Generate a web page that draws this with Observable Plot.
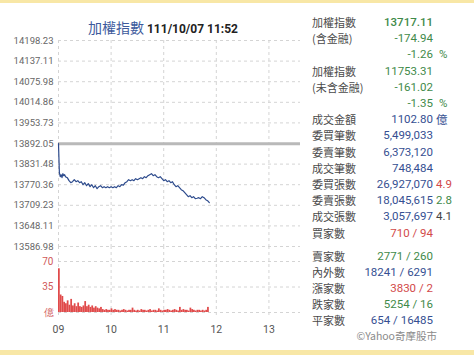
<!DOCTYPE html>
<html><head><meta charset="utf-8">
<script src="https://cdn.jsdelivr.net/npm/d3@7"></script>
<script src="https://cdn.jsdelivr.net/npm/@observablehq/plot@0.6"></script>
<style>
body{margin:0;background:#fff;}
#wrap{position:relative;width:474px;height:355px;overflow:hidden;background:#fff;font-family:Roboto,"Noto Sans CJK TC",sans-serif;}
.band{position:absolute;left:0;width:474px;background:#f8e7a6;}
.abs{position:absolute;white-space:nowrap;line-height:16px;}
.lab{font-family:"Noto Sans CJK TC",sans-serif;font-size:11px;color:#4a4a4a;}
.val{font-size:11.5px;text-align:right;}
</style></head><body><div id="wrap"></div>
<script>
// ---------- data ----------
const titleName = "加權指數";
const titleTime = "111/10/07 11:52";
const prevClose = 13892.05;
const priceTicks = [13586.98, 13648.11, 13709.23, 13770.36, 13831.48, 13892.05, 13953.73, 14014.86, 14075.98, 14137.11, 14198.23];
const priceTickLabels = ["13586.98", "13648.11", "13709.23", "13770.36", "13831.48", "13892.05", "13953.73", "14014.86", "14075.98", "14137.11", "14198.23"];
const hourMinutes = [0, 60, 120, 180, 240];
const hourLabels = ["09", "10", "11", "12", "13"];
const volTicks = [0, 35, 70];
const volTickLabels = ["億", "35", "70"];
// minutes after 09:00
const priceMinutes = [0,1,2,3,4,5,6,7,8,10,12,14,16,18,20,22,24,26,28,30,32,34,36,38,40,42,44,46,48,50,52,54,56,58,60,62,64,66,68,70,72,74,76,78,80,82,84,86,88,90,92,94,96,98,100,102,104,106,108,110,112,114,116,118,120,122,124,126,128,130,132,134,136,138,140,142,144,146,148,150,152,154,156,158,160,162,164,166,168,170,172];
const priceValues = [13892.05,13806.0,13794.1,13800.1,13791.2,13803.0,13797.1,13800.1,13794.1,13791.2,13782.3,13776.3,13779.3,13785.2,13779.3,13782.3,13776.3,13779.3,13770.4,13776.3,13767.4,13773.4,13764.5,13770.4,13761.5,13767.4,13758.5,13764.5,13767.4,13761.5,13764.5,13761.5,13764.5,13761.5,13764.5,13761.5,13764.5,13761.5,13767.4,13764.5,13770.4,13768.9,13776.3,13779.3,13785.2,13782.3,13785.2,13782.3,13788.2,13785.2,13788.2,13791.2,13788.2,13794.1,13791.2,13797.1,13800.1,13803.0,13797.1,13800.1,13794.1,13791.2,13794.1,13788.2,13782.3,13785.2,13779.3,13782.3,13776.3,13779.3,13770.4,13764.5,13767.4,13761.5,13755.6,13752.6,13746.7,13740.7,13734.8,13737.8,13731.8,13734.8,13728.9,13730.2,13731.8,13728.9,13734.8,13731.8,13725.9,13722.9,13717.11];
// volume (億) per 2-minute bin starting at 09:00
const volValues = [60,24,22,14,12,16,10,18,9,12,8,13,8,7,9,15,8,10,7,9,6,8,6,5,7,4,3,4,3,3,5,3,4,3,3,2,3,4,3,2,3,3,6,3,2,3,2,4,3,3,2,3,4,2,3,3,2,5,3,2,3,3,4,3,2,3,4,3,2,7,3,4,3,3,2,6,4,3,2,3,3,2,3,2,3,7];
// right-hand statistics
const statLabels = ["加權指數","(含金融)","","加權指數","(未含金融)","","成交金額","委買筆數","委賣筆數","成交筆數","委買張數","委賣張數","成交張數","買家數","賣家數","內外數","漲家數","跌家數","平家數",""];
const statValues = ["13717.11","-174.94","-1.26","11753.31","-161.02","-1.35","1102.80","5,499,033","6,373,120","748,484","26,927,070","18,045,615","3,057,697","710 / 94","2771 / 260","18241 / 6291","3830 / 2","5254 / 16","654 / 16485","©Yahoo奇摩股市"];
const statColors = ["green","green","green","green","green","green","blue","blue","blue","blue","blue","blue","blue","red","green","blue","red","green","blue","gray"];
const statSuffix = ["","","%","","","%","億","","","","4.9","2.8","4.1","","","","","","",""];
const suffixColors = ["","","green","","","green","blue","","","","red","green","dark","","","","","","",""];

// ---------- styles ----------
const palette = {green:"#3f8a4a", blue:"#354f92", red:"#d24a4a", gray:"#8a8a8a", dark:"#444"};
const wrap = document.getElementById("wrap");
function add(el, css, html){ const d=document.createElement(el); d.className="abs"; Object.assign(d.style, css); d.innerHTML=html; wrap.appendChild(d); return d; }

add("div",{left:"0",top:"0",height:"3px"},"").className="band";
const b2 = add("div",{},""); b2.className="band"; b2.style.top="350px"; b2.style.height="5px";

// title
add("div",{left:"88px",top:"19px",fontSize:"12px",fontWeight:"bold",color:"#222"},
  `<span style="font-family:'Noto Sans CJK TC';font-weight:normal;font-size:14px;color:#3d5a9c">${titleName}</span> ${titleTime}`);

// price chart
const priceData = priceMinutes.map((m,i)=>({m, p: priceValues[i]}));
const gridStyle = {stroke:"#d4d4d4", strokeDasharray:"3,3", strokeWidth:1};
const chart1 = Plot.plot({
  width: 300, height: 226, marginLeft: 58, marginRight: 0, marginTop: 10, marginBottom: 10,
  style: {fontFamily: "Roboto, sans-serif", fontSize: "9.5px", background: "transparent", overflow: "visible"},
  x: {domain: [0, 276], axis: null},
  y: {domain: [priceTicks[0], priceTicks[priceTicks.length-1]], axis: null},
  marks: [
    Plot.ruleY(priceTicks, gridStyle),
    Plot.ruleX(hourMinutes, gridStyle),
    Plot.ruleY([prevClose], {stroke:"#b9b9b9", strokeWidth:3}),
    Plot.line(priceData, {x:"m", y:"p", stroke:"#2c4a8c", strokeWidth:1.2}),
    Plot.axisY(priceTicks, {tickSize:0, tickPadding:5, fill:"#666", label:null, tickFormat: d => priceTickLabels[priceTicks.indexOf(d)]})
  ]
});
chart1.style.position="absolute"; chart1.style.left="0px"; chart1.style.top="30px";
wrap.appendChild(chart1);

// volume chart
const volData = volValues.map((v,i)=>({m: i*2, v}));
const chart2 = Plot.plot({
  width: 300, height: 100, marginLeft: 58, marginRight: 0, marginTop: 6, marginBottom: 25,
  style: {fontFamily: "Roboto, sans-serif", fontSize: "10px", background: "transparent", overflow: "visible"},
  x: {domain: [0, 276], axis: null},
  y: {domain: [0, 70], range: [72, 21], axis: null},
  marks: [
    Plot.ruleY(volTicks, gridStyle),
    Plot.ruleX(hourMinutes, gridStyle),
    Plot.rect(volData, {x1:"m", x2: d => d.m + 2, y1: 0, y2: "v", fill:"#e04a4a"}),
    Plot.axisY(volTicks, {tickSize:0, tickPadding:5, fill:"#d05a5a", label:null, fontSize: 10, tickFormat: d => volTickLabels[volTicks.indexOf(d)]}),
    Plot.axisX(hourMinutes, {tickSize:0, tickPadding:10, fill:"#555", label:null, fontSize: 10.5, tickFormat: d => hourLabels[hourMinutes.indexOf(d)]})
  ]
});
chart2.style.position="absolute"; chart2.style.left="0px"; chart2.style.top="240px";
wrap.appendChild(chart2);

// statistics panel
statLabels.forEach((lab,i)=>{
  const cy = i <= 13 ? 22 + 16.2*i : 256 + 16*(i-14);
  const top = (cy - 8) + "px";
  if (lab) { const d = add("div",{left:"312px",top},lab); d.classList.add("lab"); }
  const isFoot = i === statLabels.length-1;
  const v = add("div",{right: isFoot ? "37px" : "41px", top, color: palette[statColors[i]], fontWeight: i===0 ? "500" : "400", fontSize: isFoot ? "10.5px" : "11.5px"}, statValues[i]);
  v.classList.add("val");
  if (isFoot) v.style.fontFamily = "'Noto Sans CJK TC', sans-serif";
  if (statSuffix[i]) {
    const s = add("div",{left: statSuffix[i]==="%" ? "439px" : "436px", top, color: palette[suffixColors[i]], fontSize:"11.5px"}, statSuffix[i]);
    if (statSuffix[i]==="億") s.style.fontFamily = "'Noto Sans CJK TC', sans-serif";
  }
});
</script></body></html>
